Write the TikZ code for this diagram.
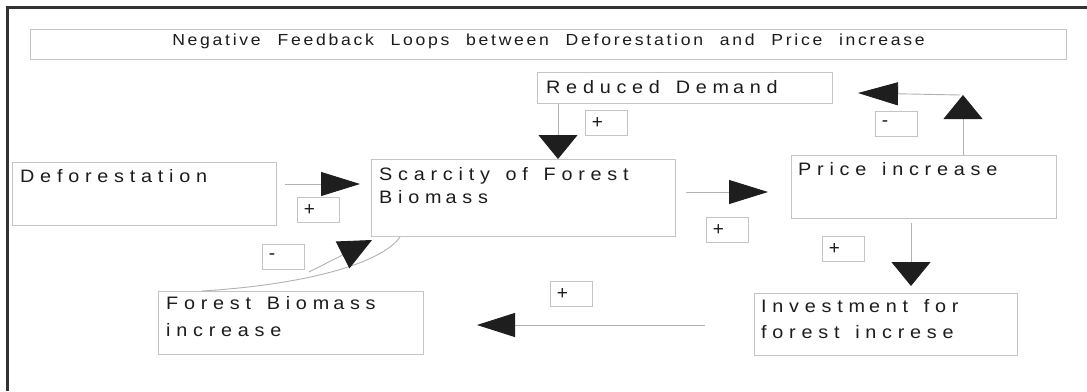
\documentclass[tikz,border=0pt]{standalone}
\usepackage{fontspec}
\setmainfont{Liberation Sans}
\newfontfamily\boxfont{Liberation Sans}[LetterSpace=32, FakeStretch=1.1, WordSpace=1.4]
\newfontfamily\titlefont{Liberation Sans}[LetterSpace=17, FakeStretch=1.1, WordSpace=2.2]
\newfontfamily\signfont{Liberation Sans}
\usetikzlibrary{arrows.meta}

\definecolor{edgegray}{HTML}{C4C4C4}
\definecolor{linegray}{HTML}{B2B2B2}
\definecolor{headblack}{HTML}{1E1E1E}
\definecolor{ink}{HTML}{1C1C1C}
\definecolor{framegray}{HTML}{333333}

% the face used in the boxes sets a wide gap after "m"
\newcommand{\mgap}{\kern4pt\relax}

\begin{document}
\begin{tikzpicture}[x=1pt, y=-1pt,
  box/.style={draw=edgegray, line width=1pt, inner sep=0pt, anchor=north west},
  txt/.style={inner sep=0pt, text=ink, align=left, anchor=base west,
    font=\boxfont\fontsize{18}{23}\selectfont},
  sign/.style={draw=edgegray, line width=0.9pt, anchor=north west,
    minimum width=42pt, minimum height=25pt, text width=29pt,
    inner xsep=6.5pt, inner ysep=0pt, align=left, text=ink,
    font=\signfont\fontsize{19}{19}\selectfont},
  link/.style={draw=linegray, line width=0.9pt},
  hor/.style={link, -{Triangle[length=39pt, width=24pt, color=headblack]}},
  ver/.style={link, -{Triangle[length=24pt, width=39pt, color=headblack]}}
]
\useasboundingbox (0,0) rectangle (1087,391);
\fill[white] (0,0) rectangle (1087,391);

% outer frame (left and top edges)
\draw[framegray, line width=3pt] (7,391) -- (7,7) -- (1087,7);

% title bar
\node[box, minimum width=1036pt, minimum height=30pt] (title) at (30,29) {};
\node[txt, anchor=base, font=\titlefont\fontsize{16}{20}\selectfont]
  (titleT) at ([shift={(0,16)}]title.north) {Negative Feedback Loops between Deforestation and Price increase};

% variable boxes (multi-line texts are placed by the baseline of their last line)
\node[box, minimum width=295pt, minimum height=31pt] (red) at (537,72) {};
\node[txt] (redT) at ([shift={(9,21)}]red.north west) {Reduced Dem\mgap and};

\node[box, minimum width=264pt, minimum height=63pt] (defo) at (12,162) {};
\node[txt] (defoT) at ([shift={(8,20)}]defo.north west) {Deforestation};

\node[box, minimum width=304pt, minimum height=77pt] (scar) at (371,159) {};
\node[txt] (scarT) at ([shift={(8,44)}]scar.north west) {Scarcity of Forest\\Biom\mgap ass};

\node[box, minimum width=265pt, minimum height=63pt] (price) at (791,155) {};
\node[txt] (priceT) at ([shift={(7,20)}]price.north west) {Price increase};

\node[box, minimum width=263pt, minimum height=62pt] (invest) at (754,293) {};
\node[txt, font=\boxfont\fontsize{18}{26}\selectfont]
  (investT) at ([shift={(7,45)}]invest.north west) {Investm\mgap ent for\\forest increse};

\node[box, minimum width=265pt, minimum height=63pt] (forest) at (158,291) {};
\node[txt, font=\boxfont\fontsize{18}{27}\selectfont]
  (forestT) at ([shift={(8,45)}]forest.north west) {Forest Biom\mgap ass\\increase};

% polarity labels
\node[sign] (s1) at (585,110) {+};
\node[sign] (s2) at (297,197) {+};
\node[sign] (s3) at (262,244) {-};
\node[sign] (s4) at (706,217) {+};
\node[sign] (s5) at (822,236) {+};
\node[sign] (s6) at (550,281) {+};
\node[sign] (s7) at (875,111) {-};

% causal links
\draw[ver] ([xshift=21pt]red.south west) -- ([xshift=187pt]scar.north west);
\draw[hor] ([shift={(8,22)}]defo.north east) -- ([shift={(-11,25)}]scar.north west);
\draw[hor] ([shift={(10,33)}]scar.north east) -- ([shift={(-23,37)}]price.north west);
\draw[ver] ([shift={(120,4)}]price.south west) -- ([shift={(157,-7)}]invest.north west);
\draw[link, -{Triangle[length=38pt, width=24pt, color=headblack]}]
  ([shift={(-49,32)}]invest.north west) -- ([shift={(53,34)}]forest.north east);

% price feedback towards reduced demand
\coordinate (turn) at (963,95);
\draw[ver] ([xshift=172pt]price.north west) -- (turn);
\draw[link, -{Triangle[length=40pt, width=23pt, color=headblack]}]
  ([xshift=-3pt]turn) -- ([shift={(25,21)}]red.north east);

% forest biomass loop back into scarcity
\draw[link] ([xshift=29pt]scar.south west) .. controls (380,265) and (300,285) .. ([xshift=44pt]forest.north west);
\coordinate (branch) at (309,272);
\draw[link, -{Triangle[length=33pt, width=30pt, color=headblack]}]
  (branch) -- ([shift={(1,3)}]scar.south west);
\end{tikzpicture}
\end{document}
